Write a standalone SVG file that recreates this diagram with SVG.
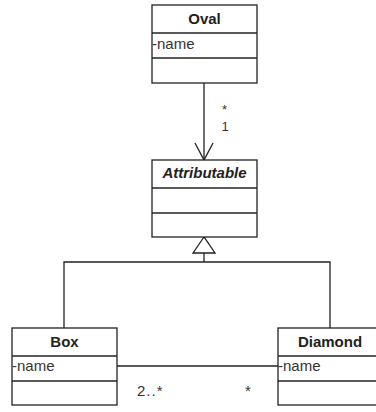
<svg xmlns="http://www.w3.org/2000/svg" width="376" height="412" viewBox="0 0 376 412">
<style>
.box{fill:#fff;stroke:#222;stroke-width:1.3}
.ln{stroke:#222;stroke-width:1.3;fill:none}
.t{font-family:"Liberation Sans",Arial,sans-serif;font-size:15px;font-weight:bold;fill:#222;text-anchor:middle}
.a{font-family:"Liberation Sans",Arial,sans-serif;font-size:15px;fill:#333}
.m{font-family:"Liberation Sans",Arial,sans-serif;font-size:13px;fill:#333}
</style>
<rect width="376" height="412" fill="#fff"/>
<g id="connectors">
<line class="ln" x1="204" y1="83" x2="204" y2="160"/>
<polyline class="ln" points="195,143 204,160 213,143"/>
<text class="m" x="222" y="114">*</text>
<text class="m" x="221.5" y="131">1</text>
<polygon class="ln" points="204,237 193,253 215,253"/>
<line class="ln" x1="204" y1="253" x2="204" y2="262"/>
<polyline class="ln" points="64,328 64,262 330,262 330,328"/>
<line class="ln" x1="117" y1="366" x2="278" y2="366"/>
<text class="a" x="137" y="396" letter-spacing="1">2..*</text>
<text class="a" x="245" y="396">*</text>
</g>
<g id="oval">
<rect class="box" x="152" y="5" width="105" height="78"/>
<line class="ln" x1="152" y1="33" x2="257" y2="33"/>
<line class="ln" x1="152" y1="58" x2="257" y2="58"/>
<text class="t" x="204.5" y="24">Oval</text>
<text class="a" x="152" y="49">-name</text>
</g>
<g id="attributable">
<rect class="box" x="152" y="160" width="105" height="77"/>
<line class="ln" x1="152" y1="188" x2="257" y2="188"/>
<line class="ln" x1="152" y1="213" x2="257" y2="213"/>
<text class="t" x="204.5" y="178" font-style="italic">Attributable</text>
</g>
<g id="box">
<rect class="box" x="12" y="328" width="105" height="77"/>
<line class="ln" x1="12" y1="356" x2="117" y2="356"/>
<line class="ln" x1="12" y1="381" x2="117" y2="381"/>
<text class="t" x="64.5" y="347">Box</text>
<text class="a" x="12" y="371">-name</text>
</g>
<g id="diamond">
<rect class="box" x="278" y="328" width="105" height="77"/>
<line class="ln" x1="278" y1="356" x2="383" y2="356"/>
<line class="ln" x1="278" y1="381" x2="383" y2="381"/>
<text class="t" x="330" y="347">Diamond</text>
<text class="a" x="278" y="371">-name</text>
</g>
</svg>
